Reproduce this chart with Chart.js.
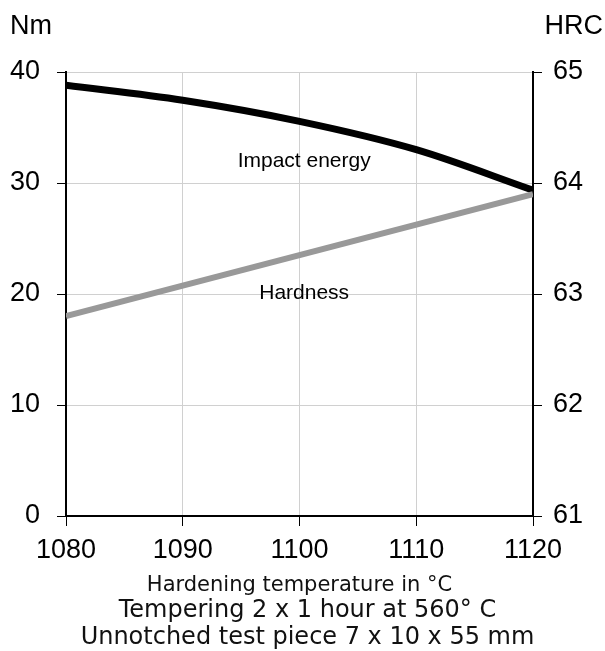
<!DOCTYPE html>
<html>
<head>
<meta charset="utf-8">
<script src="https://cdn.jsdelivr.net/npm/chart.js@4.4.1/dist/chart.umd.min.js"></script>
<style>
  html, body { margin: 0; padding: 0; background: #fff; }
  #wrap { position: relative; width: 605px; height: 651px; }
</style>
</head>
<body>
<div id="wrap"><canvas id="mainChart"></canvas></div>
<script>
// Datos
const temperatures = [1080, 1090, 1100, 1110, 1120];
const impactEnergy = [38.8, 37.45, 35.55, 33.0, 29.35];   // Nm
const hardnessTemps = [1080, 1120];
const hardness = [62.8, 63.9];                            // HRC
const leftTicks = [0, 10, 20, 30, 40];
const rightTicks = [61, 62, 63, 64, 65];

const AXIS_FONT = "'Liberation Sans', Arial, sans-serif";
const NOTE_FONT = "'DejaVu Sans', sans-serif";

// Etiquetas de texto dentro del gráfico y unidades arriba
const labelsPlugin = {
    id: 'labelsPlugin',
    afterDraw(chart) {
        const ctx = chart.ctx;
        const x = chart.scales.x;
        const y = chart.scales.y;
        ctx.save();
        ctx.fillStyle = '#000';
        ctx.textAlign = 'center';
        ctx.textBaseline = 'middle';
        ctx.font = `21px ${AXIS_FONT}`;
        ctx.fillText('Impact energy', x.getPixelForValue(1100.4), y.getPixelForValue(32.0));
        ctx.fillText('Hardness', x.getPixelForValue(1100.4), y.getPixelForValue(20.1));

        ctx.font = `27px ${AXIS_FONT}`;
        ctx.textAlign = 'left';
        ctx.fillText('Nm', 10, 27);
        ctx.textAlign = 'right';
        ctx.fillText('HRC', 603, 27);
        ctx.restore();
    }
};

function initChart() {
    const ctx = document.getElementById('mainChart').getContext('2d');
    return new Chart(ctx, {
        type: 'line',
        data: {
            datasets: [
                {
                    label: 'Hardness',
                    data: hardnessTemps.map((t, i) => ({ x: t, y: hardness[i] })),
                    yAxisID: 'y1',
                    borderColor: '#999999',
                    borderWidth: 6,
                    pointRadius: 0,
                    order: 0
                },
                {
                    label: 'Impact energy',
                    data: temperatures.map((t, i) => ({ x: t, y: impactEnergy[i] })),
                    yAxisID: 'y',
                    borderColor: '#000000',
                    borderWidth: 7,
                    pointRadius: 0,
                    cubicInterpolationMode: 'monotone',
                    order: 1
                }
            ]
        },
        options: {
            responsive: true,
            maintainAspectRatio: false,
            animation: false,
            layout: { padding: { top: 72, left: 10, right: 0, bottom: 0 } },
            plugins: {
                legend: { display: false },
                tooltip: { enabled: false },
                title: {
                    display: true,
                    position: 'bottom',
                    text: ['Tempering 2 x 1 hour at 560° C', 'Unnotched test piece 7 x 10 x 55 mm'],
                    color: '#111',
                    font: { family: NOTE_FONT, size: 24, weight: 'normal', lineHeight: 1.125 },
                    padding: { top: 0, bottom: 0 }
                }
            },
            scales: {
                x: {
                    type: 'linear',
                    min: 1080,
                    max: 1120,
                    afterFit: s => { s.height = 81; },
                    ticks: {
                        stepSize: 10,
                        color: '#000',
                        font: { family: AXIS_FONT, size: 27, lineHeight: 1 },
                        padding: 11,
                        callback: v => String(v)
                    },
                    grid: { color: '#d0d0d0', lineWidth: 1, tickColor: '#000', tickLength: 10 },
                    border: { color: '#000', width: 2 },
                    title: {
                        display: true,
                        text: 'Hardening temperature in °C',
                        color: '#111',
                        font: { family: NOTE_FONT, size: 21, lineHeight: 1 },
                        padding: { top: 0, bottom: 1 }
                    }
                },
                y: {
                    position: 'left',
                    min: 0,
                    max: 40,
                    afterBuildTicks: s => { s.ticks = leftTicks.map(v => ({ value: v })); },
                    afterFit: s => { s.width = 56; },
                    ticks: { color: '#000', font: { family: AXIS_FONT, size: 27 }, padding: 17 },
                    grid: { color: '#d0d0d0', lineWidth: 1, tickColor: '#000', tickLength: 9 },
                    border: { color: '#000', width: 2 }
                },
                y1: {
                    position: 'right',
                    min: 61,
                    max: 65,
                    afterBuildTicks: s => { s.ticks = rightTicks.map(v => ({ value: v })); },
                    afterFit: s => { s.width = 72; },
                    ticks: { color: '#000', font: { family: AXIS_FONT, size: 27 }, padding: 11 },
                    grid: { drawOnChartArea: false, tickColor: '#000', tickLength: 9 },
                    border: { color: '#000', width: 2 }
                }
            }
        },
        plugins: [labelsPlugin]
    });
}

document.addEventListener('DOMContentLoaded', () => {
    initChart();
});
</script>
</body>
</html>
